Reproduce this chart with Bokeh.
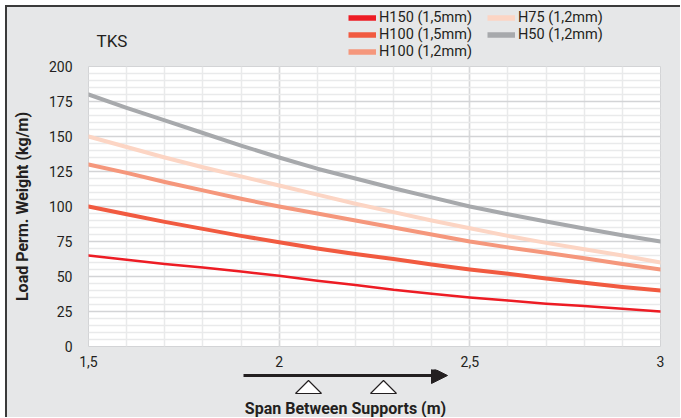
from bokeh.plotting import figure
from bokeh.layouts import column
from bokeh.models import (FixedTicker, Legend, LegendItem, Label, Arrow, NormalHead, Range1d)
from bokeh.embed import file_html
from bokeh.resources import INLINE

# ---- data ----
span = [1.5, 1.6, 1.7, 1.8, 1.9, 2.0, 2.1, 2.2, 2.3, 2.4, 2.5, 2.6, 2.7, 2.8, 2.9, 3.0]
h150_15 = [65, 62, 59, 56.5, 53.5, 50.5, 47, 44, 40.5, 37.7, 35, 32.8, 30.6, 29, 27, 25]
h100_15 = [100, 94.5, 89, 84, 79, 74.5, 70, 66, 62.5, 58.5, 55, 52, 48.5, 45.5, 42.5, 40]
h100_12 = [130, 124, 117.5, 111.5, 105.5, 100, 95, 90, 85, 80, 75, 70.8, 67, 63, 59, 55]
h75_12 = [150, 142.5, 135, 128, 121.5, 115, 108.5, 102, 96, 90, 84.5, 79, 74, 69.5, 65, 60]
h50_12 = [180, 170.5, 161.5, 152.5, 143.5, 135, 127, 120, 113, 106.5, 100, 94.5, 89.3, 84.3, 79.5, 75]

series_names = ["H150 (1,5mm)", "H100 (1,5mm)", "H100 (1,2mm)", "H75 (1,2mm)", "H50 (1,2mm)"]
series_values = [h150_15, h100_15, h100_12, h75_12, h50_12]
series_colors = ["#ed1c24", "#f15a40", "#f5977c", "#fcd5c4", "#a7a9ac"]
series_widths = [2.5, 4, 4, 4, 4]

x_ticks = [1.5, 2, 2.5, 3]
x_tick_labels = ["1,5", "2", "2,5", "3"]
y_ticks = [0, 25, 50, 75, 100, 125, 150, 175, 200]

title_text = "TKS"
x_title = "Span Between Supports (m)"
y_title = "Load Perm. Weight (kg/m)"

TEXT = "#231f20"
BG = "#e6e7e8"
FONT = "Roboto"

# ---- geometry (page pixels) ----
W = 673                 # content width
OX, OY = 7, 7           # content origin on the page
TOP_H = 53              # strip with title + legend  (page 7..60)
MAIN_H = 309            # chart                      (page 60..369)
BOT_H = 48              # strip with arrow + x title (page 369..417)
F_LEFT, F_RIGHT = 81, 20
F_TOP, F_BOTTOM = 6, 20
FRAME_W = W - F_LEFT - F_RIGHT
X0, X1 = 1.5, 3.0
px_per_x = FRAME_W / (X1 - X0)


def strip(height, x_range, y_range):
    f = figure(width=W, height=height, output_backend="svg", toolbar_location=None,
               x_range=x_range, y_range=y_range, x_axis_type=None, y_axis_type=None,
               min_border=0, title=None, frame_align=False)
    f.min_border_left = f.min_border_right = f.min_border_top = f.min_border_bottom = 0
    f.outline_line_color = None
    f.background_fill_color = BG
    f.border_fill_color = BG
    return f


# ---- top strip: title and legend (page coordinates) ----
top = strip(TOP_H, Range1d(OX, OX + W), Range1d(OY + TOP_H, OY))
top.add_layout(Label(x=96, y=40, text=title_text, text_font=FONT, text_font_size="17px",
                     text_color=TEXT, text_baseline="middle", text_align="left"))

# ---- main chart ----
p = figure(width=W, height=MAIN_H, output_backend="svg", toolbar_location=None,
           x_range=Range1d(X0, X1), y_range=Range1d(0, 200),
           min_border_left=F_LEFT, min_border_right=F_RIGHT,
           min_border_top=F_TOP, min_border_bottom=F_BOTTOM, title=None, frame_align=False)
p.border_fill_color = BG
p.background_fill_color = "white"
p.outline_line_color = "#d3d4d6"
p.outline_line_width = 1

x_minor = [round(1.5 + 0.1 * i, 1) for i in range(1, 15)]
y_minor = [5 * i for i in range(1, 40) if (5 * i) % 25 != 0]
p.xaxis.ticker = FixedTicker(ticks=x_ticks, minor_ticks=x_minor)
p.yaxis.ticker = FixedTicker(ticks=y_ticks, minor_ticks=y_minor)
p.xaxis.major_label_overrides = dict(zip(x_ticks, x_tick_labels))

for ax in (p.xaxis[0], p.yaxis[0]):
    ax.axis_line_color = None
    ax.major_tick_line_color = None
    ax.minor_tick_line_color = None
    ax.major_label_text_font = FONT
    ax.major_label_text_font_size = "14px"
    ax.major_label_text_color = TEXT
p.xaxis.major_label_standoff = 3
p.yaxis.major_label_standoff = 10
p.yaxis.axis_label = y_title
p.yaxis.axis_label_text_font = FONT
p.yaxis.axis_label_text_font_size = "16px"
p.yaxis.axis_label_text_font_style = "bold"
p.yaxis.axis_label_text_color = TEXT
p.yaxis.axis_label_standoff = 14

p.xgrid.grid_line_color = "#d8d9db"
p.xgrid.grid_line_width = 1.5
p.xgrid.minor_grid_line_color = "#e9eaeb"
p.xgrid.minor_grid_line_width = 1.5
p.ygrid.grid_line_color = "#d3d4d6"
p.ygrid.grid_line_width = 1.5
p.ygrid.minor_grid_line_color = "#e9eaeb"
p.ygrid.minor_grid_line_width = 1.5

nan = float("nan")
items = []
for name, vals, col, w in zip(series_names, series_values, series_colors, series_widths):
    p.line(span, vals, line_color=col, line_width=w, line_join="round", line_cap="round")
    # legend-only proxy (no visible points) so the swatch can be drawn thicker
    swatch = top.line([nan, nan], [nan, nan], line_color=col, line_width=5.5)
    items.append(LegendItem(label=name, renderers=[swatch]))

legend = Legend(items=items, location=(348 - OX, 0), orientation="vertical", nrows=3,
                padding=0, margin=0, spacing=0, glyph_width=28, glyph_height=17,
                label_height=17, label_width=108, label_standoff=3,
                label_text_font=FONT, label_text_font_size="14.5px", label_text_color=TEXT,
                background_fill_alpha=0, border_line_color=None)
top.add_layout(legend)

# ---- bottom strip: arrow, supports and x title (x in span units, y in page px) ----
frame_left_page = OX + F_LEFT
bx0 = X0 - (frame_left_page - OX) / px_per_x
bx1 = X1 + F_RIGHT / px_per_x
bot_top = OY + TOP_H + MAIN_H
bot = strip(BOT_H, Range1d(bx0, bx1), Range1d(bot_top + BOT_H, bot_top))


def sx(page_x):
    return X0 + (page_x - frame_left_page) / px_per_x


bot.add_layout(Arrow(x_start=sx(243), y_start=375, x_end=sx(447), y_end=375,
                     line_width=3, line_color=TEXT,
                     end=NormalHead(size=16, fill_color=TEXT, line_color=TEXT)))
half = 13 / px_per_x
tri_x = [[sx(c) - half, sx(c), sx(c) + half] for c in (308, 383)]
tri_y = [[393, 380, 393], [393, 380, 393]]
bot.patches(tri_x, tri_y, fill_color="white", line_color=TEXT, line_width=1.2)
bot.add_layout(Label(x=sx(345), y=408, text=x_title, text_font=FONT, text_font_size="16px",
                     text_font_style="bold", text_color=TEXT, text_baseline="middle",
                     text_align="center"))

layout = column(top, p, bot, spacing=0, margin=(5, 0, 0, 5),
                styles={"border-top": "2px solid #3a3a3a", "border-left": "2px solid #3a3a3a",
                        "background-color": BG})

open("out.html", "w").write(file_html(layout, INLINE))
